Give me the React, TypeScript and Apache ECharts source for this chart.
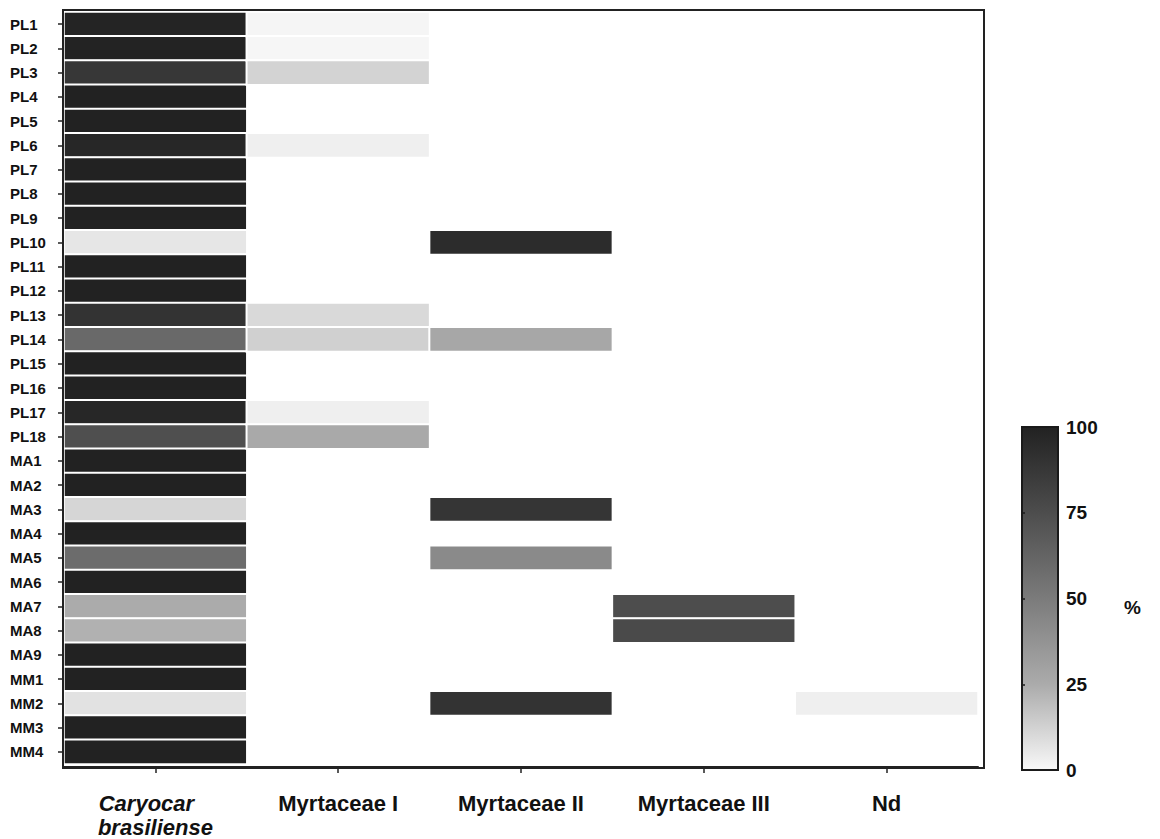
import React, { useEffect, useRef } from "react";
import * as echarts from "echarts";

// Sample rows (top to bottom)
const samples = [
  "PL1", "PL2", "PL3", "PL4", "PL5", "PL6", "PL7", "PL8", "PL9", "PL10",
  "PL11", "PL12", "PL13", "PL14", "PL15", "PL16", "PL17", "PL18",
  "MA1", "MA2", "MA3", "MA4", "MA5", "MA6", "MA7", "MA8", "MA9",
  "MM1", "MM2", "MM3", "MM4",
];

// Pollen types (columns)
const pollenTypes = ["Caryocar brasiliense", "Myrtaceae I", "Myrtaceae II", "Myrtaceae III", "Nd"];

// Percentages per pollen type, one entry per sample (null = absent)
const caryocar = [99, 99.5, 88, 100, 100, 97, 100, 100, 100, 6, 100, 100, 90, 60, 100, 100, 97, 74,
  100, 100, 11, 100, 58, 100, 25, 23, 100, 100, 7, 100, 100];
const myrtaceaeI = [1, 0.5, 12, null, null, 3, null, null, null, null, null, null, 10, 13, null, null, 3, 26,
  null, null, null, null, null, null, null, null, null, null, null, null, null];
const myrtaceaeII = [null, null, null, null, null, null, null, null, null, 94, null, null, null, 27, null, null, null, null,
  null, null, 89, null, 42, null, null, null, null, null, 90, null, null];
const myrtaceaeIII = [null, null, null, null, null, null, null, null, null, null, null, null, null, null, null, null, null, null,
  null, null, null, null, null, null, 75, 77, null, null, null, null, null];
const nd = [null, null, null, null, null, null, null, null, null, null, null, null, null, null, null, null, null, null,
  null, null, null, null, null, null, null, null, null, null, 3, null, null];

const columns = [caryocar, myrtaceaeI, myrtaceaeII, myrtaceaeIII, nd];

// Colour scale stops from 0 % to 100 %
const scaleColors = ["#f8f8f8", "#ababab", "#7b7b7b", "#4d4d4d", "#222222"];
const scaleTicks = [0, 25, 50, 75, 100];

const FONT = "'Liberation Sans', Arial, sans-serif";

export default function App() {
  const ref = useRef<HTMLDivElement>(null);

  useEffect(() => {
    document.body.style.margin = "0";
    const chart = echarts.init(ref.current!, null, { renderer: "svg" });

    const data: [number, number, number][] = [];
    columns.forEach((col, x) => {
      col.forEach((v, y) => {
        if (v !== null && v !== undefined) data.push([x, y, v]);
      });
    });

    const gradient = new echarts.graphic.LinearGradient(
      0, 0, 0, 1,
      scaleColors
        .slice()
        .reverse()
        .map((c, i) => ({ offset: i / (scaleColors.length - 1), color: c }))
    );

    chart.setOption({
      animation: false,
      backgroundColor: "#ffffff",
      textStyle: { fontFamily: FONT },
      grid: [
        { left: 64, top: 12, width: 914, height: 753, containLabel: false },
        {
          left: 1022, top: 427, width: 36, height: 343, show: true,
          backgroundColor: gradient, borderColor: "#1a1a1a", borderWidth: 2,
        },
      ],
      xAxis: [
        {
          type: "category",
          gridIndex: 0,
          data: pollenTypes,
          position: "bottom",
          offset: 3,
          axisLine: { show: true, lineStyle: { color: "#222", width: 2 } },
          axisTick: { show: true, alignWithLabel: true, length: 6, lineStyle: { color: "#222", width: 1.5 } },
          splitLine: { show: false },
          axisLabel: {
            margin: 24,
            fontSize: 22,
            fontWeight: "bold",
            color: "#111",
            fontFamily: FONT,
            lineHeight: 24,
            interval: 0,
            formatter: (val: string, idx: number) => {
              if (idx === 0) {
                const parts = val.split(" ");
                return `{l1|${parts[0]}}\n{l2|${parts[1]}}`;
              }
              return val;
            },
            rich: {
              l1: { fontStyle: "italic", fontWeight: "bold", fontSize: 22, lineHeight: 24, color: "#111", fontFamily: FONT, padding: [0, 18, 0, 0] },
              l2: { fontStyle: "italic", fontWeight: "bold", fontSize: 22, lineHeight: 24, color: "#111", fontFamily: FONT },
            },
          },
        },
        { type: "value", gridIndex: 1, min: 0, max: 1, show: false },
      ],
      yAxis: [
        {
          type: "category",
          gridIndex: 0,
          data: samples,
          inverse: true,
          offset: 1,
          axisLine: { show: true, lineStyle: { color: "#222", width: 2 } },
          axisTick: { show: true, alignWithLabel: true, length: 5, lineStyle: { color: "#222", width: 1.5 } },
          splitLine: { show: false },
          axisLabel: {
            align: "left",
            margin: 53,
            fontSize: 15,
            fontWeight: "bold",
            color: "#111",
            fontFamily: FONT,
            interval: 0,
          },
        },
        {
          type: "value",
          gridIndex: 1,
          position: "right",
          min: 0,
          max: 100,
          interval: 25,
          axisLine: { show: true, lineStyle: { color: "#1a1a1a", width: 2 } },
          axisTick: { show: true, length: 3, lineStyle: { color: "#1a1a1a", width: 1.5 } },
          splitLine: { show: false },
          axisLabel: {
            margin: 8,
            fontSize: 19,
            fontWeight: "bold",
            color: "#111",
            fontFamily: FONT,
            formatter: (v: number) => (scaleTicks.includes(v) ? String(v) : ""),
          },
        },
      ],
      visualMap: {
        type: "continuous",
        show: false,
        min: 0,
        max: 100,
        dimension: 2,
        seriesIndex: 0,
        inRange: { color: scaleColors },
      },
      graphic: [
        {
          type: "rect",
          silent: true,
          z: 10,
          shape: { x: 63, y: 10, width: 921, height: 758 },
          style: { fill: "none", stroke: "#222", lineWidth: 2 },
        },
        {
          type: "text",
          silent: true,
          x: 1124,
          y: 607,
          style: {
            text: "%",
            font: `bold 19px ${FONT}`,
            fill: "#111",
            verticalAlign: "middle",
          },
        },
      ],
      series: [
        {
          type: "heatmap",
          xAxisIndex: 0,
          yAxisIndex: 0,
          data,
          itemStyle: { borderColor: "#ffffff", borderWidth: 2 },
          emphasis: { disabled: true },
        },
      ],
    });

    return () => chart.dispose();
  }, []);

  return <div ref={ref} style={{ width: 1160, height: 839 }} />;
}
